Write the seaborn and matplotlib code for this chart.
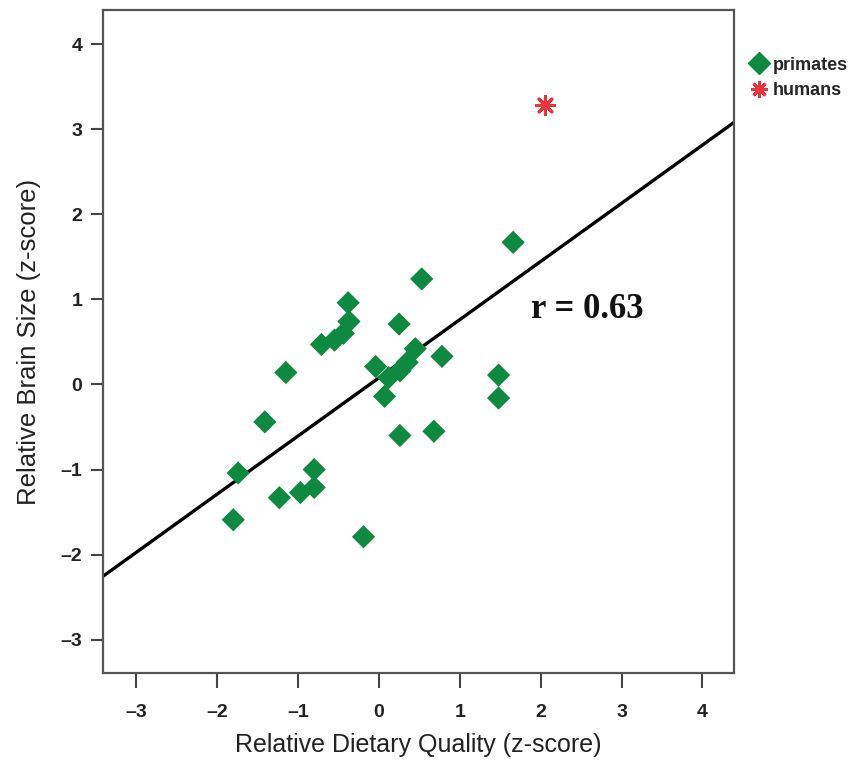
import numpy as np
import pandas as pd
import matplotlib
matplotlib.use("Agg")
import matplotlib.pyplot as plt
import seaborn as sns
from matplotlib.lines import Line2D

# ---- data ----
primate_x = [1.66, 0.53, -0.38, -0.37, -0.44, -0.55, -0.71, 0.25, -1.15, 0.45,
             0.35, 0.78, -0.04, 0.26, 0.12, 0.07, 1.48, 1.48, -1.41, 0.26,
             0.68, -1.74, -0.80, -1.23, -0.97, -0.80, -1.80, -0.19]
primate_y = [1.67, 1.24, 0.96, 0.74, 0.60, 0.52, 0.47, 0.71, 0.14, 0.42,
             0.26, 0.33, 0.21, 0.16, 0.08, -0.14, 0.11, -0.16, -0.44, -0.60,
             -0.55, -1.04, -1.00, -1.33, -1.27, -1.21, -1.59, -1.79]
human_x = [2.05]
human_y = [3.28]
x_ticks = [-3, -2, -1, 0, 1, 2, 3, 4]
y_ticks = [-3, -2, -1, 0, 1, 2, 3, 4]
r_label = "r = 0.63"

df = pd.DataFrame({
    "x": primate_x + human_x,
    "y": primate_y + human_y,
    "group": ["primates"] * len(primate_x) + ["humans"] * len(human_x),
})
prim = df[df.group == "primates"]

sns.set_theme(style="white")
plt.rcParams["font.family"] = ["Liberation Sans", "DejaVu Sans"]

fig = plt.figure(figsize=(8.63, 7.63), dpi=100)
ax = fig.add_axes([0.1194, 0.1180, 0.7311, 0.8689])
ax.set_xlim(-3.41, 4.39)
ax.set_ylim(-3.39, 4.4)

green = "#0e8a40"
red = "#e8343c"

# regression line fitted over all species (primates + humans)
sns.regplot(data=df, x="x", y="y", scatter=False, ci=None, truncate=False,
            line_kws=dict(color="black", lw=2.4), ax=ax)
sns.scatterplot(data=prim, x="x", y="y", marker="D", s=140, color=green,
                edgecolor="none", ax=ax, zorder=3)
sns.scatterplot(data=df[df.group == "humans"], x="x", y="y", marker=(8, 2, 0),
                s=170, color=red, linewidth=2.2, ax=ax, zorder=3)

ax.set_xlim(-3.41, 4.39)
ax.set_ylim(-3.39, 4.4)
ax.set_xticks(x_ticks)
ax.set_yticks(y_ticks)
ax.set_xticklabels([f"\u2013{abs(t)}" if t < 0 else str(t) for t in x_ticks],
                   fontsize=14, fontweight="bold", color="#222222")
ax.set_yticklabels([f"\u2013{abs(t)}" if t < 0 else str(t) for t in y_ticks],
                   fontsize=14, fontweight="bold", color="#222222")
ax.tick_params(axis="x", direction="out", length=11, width=1.5, color="#444444",
               pad=11, bottom=True)
ax.tick_params(axis="y", direction="out", length=9, width=1.5, color="#444444",
               pad=6, left=True)
for sp in ax.spines.values():
    sp.set_visible(True)
    sp.set_color("#555555")
    sp.set_linewidth(1.6)

ax.set_xlabel("Relative Dietary Quality (z-score)", fontsize=18, color="#222222",
              labelpad=9)
ax.set_ylabel("Relative Brain Size (z-score)", fontsize=18.5, color="#222222",
              labelpad=14)

ax.text(1.88, 0.88, r_label, fontsize=25, fontweight="bold",
        family=["Liberation Serif", "DejaVu Serif"], color="#111111",
        ha="left", va="center")

handles = [
    Line2D([], [], marker="D", color=green, linestyle="none", markersize=11),
    Line2D([], [], marker=(8, 2, 0), color=red, linestyle="none", markersize=12,
           markeredgewidth=2.2),
]
fig.legend(handles, ["primates", "humans"], loc="upper left",
           bbox_to_anchor=(0.860, 0.935), frameon=False, handletextpad=0.2,
           labelspacing=0.45, borderaxespad=0, handlelength=1.1,
           prop=dict(size=13, weight="bold"))

fig.savefig("out.png", dpi=100)
